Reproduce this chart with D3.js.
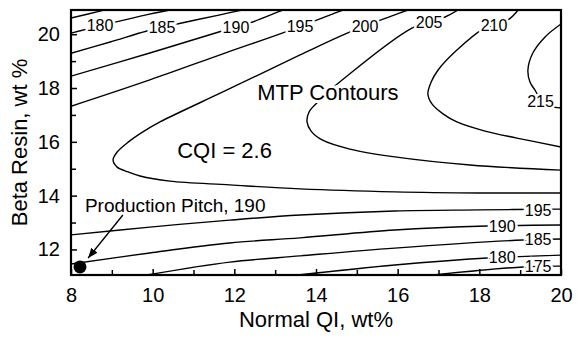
<!DOCTYPE html>
<html>
<head>
<meta charset="utf-8">
<script src="https://cdn.jsdelivr.net/npm/d3@7"></script>
<style>
  body { margin: 0; background: #fff; }
  text { font-family: "Liberation Sans", Arial, Helvetica, sans-serif; fill: #000; }
</style>
</head>
<body>
<div class="chart"></div>
<script>
// MTP contour lines as [normal QI wt%, beta resin wt%]
var mtp175top = [[8.0, 20.60], [8.71, 20.86], [8.81, 20.9]];
var mtp180top = [[8.0, 20.04], [8.39, 20.19], [9.08, 20.45], [9.84, 20.72], [10.42, 20.9]];
var mtp185top = [[8.0, 19.29], [8.96, 19.71], [9.86, 20.12], [10.60, 20.38], [11.65, 20.72], [12.19, 20.9]];
var mtp190top = [[8.0, 18.44], [9.93, 19.30], [11.70, 20.12], [12.38, 20.42], [13.07, 20.83], [13.19, 20.9]];
var mtp195top = [[8.0, 17.32], [9.93, 18.30], [11.77, 19.30], [13.24, 20.08], [14.54, 20.83], [14.66, 20.9]];
var mtp200 = [[16.25, 20.9], [15.93, 20.72], [14.78, 20.05], [13.61, 19.23], [11.77, 17.89], [10.18, 16.74],
              [9.76, 16.37], [9.40, 15.99], [9.13, 15.62], [9.03, 15.33], [9.13, 15.06], [9.40, 14.88],
              [9.69, 14.73], [10.42, 14.54], [11.89, 14.40], [13.61, 14.25], [15.93, 14.14], [18.02, 14.10], [20.0, 14.10]];
var mtp205 = [[17.48, 20.9], [17.16, 20.64], [16.35, 20.23], [14.64, 18.30], [14.29, 17.85], [14.02, 17.44],
              [13.83, 17.11], [13.78, 16.74], [13.88, 16.40], [14.15, 16.07], [14.83, 15.73], [15.93, 15.44],
              [17.77, 15.14], [20.0, 14.95]];
var mtp210 = [[18.95, 20.9], [18.70, 20.53], [18.09, 20.19], [17.45, 19.41], [16.99, 18.67], [16.82, 18.22],
              [16.74, 17.78], [16.84, 17.41], [17.11, 17.04], [17.45, 16.74], [18.14, 16.40], [18.92, 16.14], [20.0, 15.81]];
var mtp215 = [[20.0, 20.38], [19.61, 19.90], [19.31, 19.30], [19.19, 18.67], [19.24, 18.22], [19.36, 17.93],
              [19.51, 17.56], [19.73, 17.33], [20.0, 17.26]];
var mtp195low = [[8.0, 12.54], [9.93, 12.83], [11.89, 13.09], [13.61, 13.28], [15.93, 13.43], [18.02, 13.47], [20.0, 13.50]];
var mtp190low = [[8.0, 11.46], [9.93, 11.87], [11.89, 12.24], [13.61, 12.43], [15.93, 12.72], [18.19, 12.87], [20.0, 12.91]];
var mtp185low = [[9.86, 11.05], [11.89, 11.53], [13.61, 11.76], [15.93, 12.05], [19.07, 12.35], [20.0, 12.39]];
var mtp180low = [[13.56, 11.05], [15.93, 11.42], [18.19, 11.68], [20.0, 11.79]];
var mtp175low = [[16.87, 11.05], [19.07, 11.35], [20.0, 11.38]];

var contours = [mtp175top, mtp180top, mtp185top, mtp190top, mtp195top, mtp200, mtp205, mtp210, mtp215,
                mtp195low, mtp190low, mtp185low, mtp180low, mtp175low];

// inline labels on the contours
var labelText = ["180", "185", "190", "195", "200", "205", "210", "215", "195", "190", "185", "180", "175"];
var labelQI   = [8.71, 10.23, 12.04, 13.61, 15.20, 16.77, 18.36, 19.50, 19.44, 18.56, 19.44, 18.56, 19.44];
var labelBR   = [20.33, 20.26, 20.27, 20.30, 20.29, 20.45, 20.34, 17.52, 13.47, 12.87, 12.39, 11.72, 11.36];

// production pitch point
var pitchQI = 8.22, pitchBR = 11.35;

// axis ticks
var xMajor = [8, 10, 12, 14, 16, 18, 20], xMinor = [9, 11, 13, 15, 17, 19];
var yMajor = [12, 14, 16, 18, 20], yMinor = [13, 15, 17, 19];

// set the dimensions and margins of the graph
var margin = {top: 10, right: 16, bottom: 64, left: 71},
    width = 577 - margin.left - margin.right,
    height = 339 - margin.top - margin.bottom;

var x = d3.scaleLinear().domain([8, 20]).range([0, width]);
var y = d3.scaleLinear().domain([11.05, 20.9]).range([height, 0]);

var svgRoot = d3.select(".chart").append("svg")
    .attr("width", width + margin.left + margin.right)
    .attr("height", height + margin.top + margin.bottom);

var defs = svgRoot.append("defs");
defs.append("clipPath").attr("id", "plot")
  .append("rect").attr("width", width).attr("height", height);
defs.append("marker")
    .attr("id", "arrow")
    .attr("viewBox", "0 0 10 8")
    .attr("refX", 10).attr("refY", 4)
    .attr("markerWidth", 10).attr("markerHeight", 8)
    .attr("markerUnits", "userSpaceOnUse")
    .attr("orient", "auto")
  .append("path").attr("d", "M0,0L10,4L0,8Z").attr("fill", "#000");

var svg = svgRoot.append("g")
    .attr("transform", "translate(" + margin.left + "," + margin.top + ")");

var line = d3.line()
    .x(function(d) { return x(d[0]); })
    .y(function(d) { return y(d[1]); })
    .curve(d3.curveCatmullRom.alpha(0.5));

// contour lines
svg.append("g").attr("clip-path", "url(#plot)")
  .selectAll("path")
  .data(contours)
  .enter().append("path")
    .attr("d", line)
    .style("fill", "none")
    .style("stroke", "#000")
    .style("stroke-width", 1.4);

// contour labels with a white halo to break the line
svg.selectAll(".clabel")
  .data(labelText)
  .enter().append("text")
    .attr("class", "clabel")
    .attr("x", function(d, i) { return x(labelQI[i]); })
    .attr("y", function(d, i) { return y(labelBR[i]); })
    .attr("dy", "0.36em")
    .attr("text-anchor", "middle")
    .attr("font-size", 16)
    .attr("stroke", "#fff")
    .attr("stroke-width", 5)
    .attr("paint-order", "stroke")
    .text(function(d) { return d; });

// annotations
svg.append("text")
    .attr("x", x(12.56)).attr("y", y(17.55))
    .attr("font-size", 22)
    .attr("stroke", "#fff").attr("stroke-width", 6).attr("paint-order", "stroke")
    .text("MTP Contours");

svg.append("text")
    .attr("x", x(10.60)).attr("y", y(15.40))
    .attr("font-size", 22)
    .text("CQI = 2.6");

svg.append("text")
    .attr("x", x(8.34)).attr("y", y(13.40))
    .attr("font-size", 19)
    .text("Production Pitch, 190");

svg.append("line")
    .attr("x1", x(9.27)).attr("y1", y(13.28))
    .attr("x2", x(8.42)).attr("y2", y(11.68))
    .attr("stroke", "#000").attr("stroke-width", 1.4)
    .attr("marker-end", "url(#arrow)");

svg.append("circle")
    .attr("cx", x(pitchQI)).attr("cy", y(pitchBR))
    .attr("r", 6.5)
    .attr("fill", "#000");

// axes, ticks pointing inwards
function styleAxis(g) {
  g.select(".domain").remove();
  g.selectAll(".tick line").attr("stroke", "#000").attr("stroke-width", 1.5);
  g.attr("font-size", 20).attr("font-family", null);
}

svg.append("g")
    .attr("transform", "translate(0," + height + ")")
    .call(d3.axisBottom(x).tickValues(xMajor).tickSize(-6).tickPadding(13).tickFormat(d3.format("d")))
    .call(styleAxis);
svg.append("g")
    .attr("transform", "translate(0," + height + ")")
    .call(d3.axisBottom(x).tickValues(xMinor).tickSize(-5).tickFormat(""))
    .call(styleAxis);
svg.append("g")
    .call(d3.axisLeft(y).tickValues(yMajor).tickSize(-6).tickPadding(11).tickFormat(d3.format("d")))
    .call(styleAxis);
svg.append("g")
    .call(d3.axisLeft(y).tickValues(yMinor).tickSize(-5).tickFormat(""))
    .call(styleAxis);

// frame
svg.append("rect")
    .attr("width", width).attr("height", height)
    .style("fill", "none")
    .style("stroke", "#000")
    .style("stroke-width", 2.2);

// axis titles
svg.append("text")
    .attr("x", width / 2).attr("y", 317)
    .attr("text-anchor", "middle")
    .attr("font-size", 22)
    .text("Normal QI, wt%");

svg.append("text")
    .attr("transform", "translate(-44," + (height / 2) + ") rotate(-90)")
    .attr("text-anchor", "middle")
    .attr("font-size", 22)
    .text("Beta Resin, wt %");
</script>
</body>
</html>
